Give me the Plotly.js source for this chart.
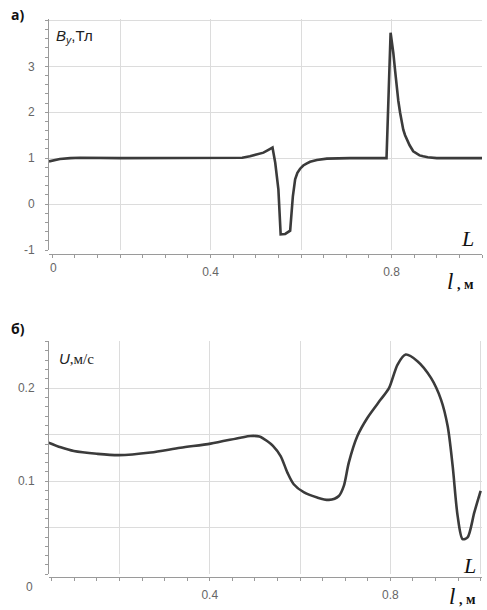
<!DOCTYPE html>
<html>
<head>
<meta charset="utf-8">
<script src="https://cdn.plot.ly/plotly-3.0.1.min.js"></script>
<style>html,body{margin:0;padding:0;background:#fff;}#chart{width:487px;height:610px;}</style>
</head>
<body>
<div id="chart"></div>
<script>
// Panel a) magnetic induction By, T
const lenA = [0.043,0.055,0.067,0.090,0.112,0.200,0.300,0.400,0.450,0.470,0.487,0.505,0.517,0.528,0.537,0.543,0.550,0.555,0.565,0.576,0.582,0.587,0.592,0.598,0.605,0.612,0.620,0.635,0.657,0.708,0.788,0.789,0.798,0.801,0.804,0.808,0.811,0.815,0.819,0.822,0.826,0.830,0.834,0.840,0.848,0.855,0.862,0.870,0.880,0.900,0.950,1.000];
const byA  = [0.93, 0.96, 0.98, 1.00, 1.01, 1.00, 1.00, 1.00, 1.00, 1.01, 1.04, 1.08, 1.12, 1.18, 1.23, 0.90, 0.32, -0.66,-0.65,-0.58,0.17, 0.54, 0.68, 0.77, 0.84, 0.88, 0.92, 0.96, 0.99, 1.00, 1.00, 1.00, 3.73, 3.55, 3.29, 2.90, 2.57, 2.25, 1.99, 1.80, 1.62, 1.50, 1.41, 1.28, 1.15, 1.10, 1.06, 1.04, 1.02, 1.00, 1.00, 1.00];
// Panel б) velocity U, m/s
const lenB = [0.043,0.070,0.099,0.150,0.198,0.269,0.335,0.402,0.468,0.490,0.510,0.527,0.540,0.557,0.572,0.586,0.609,0.638,0.664,0.686,0.697,0.708,0.727,0.749,0.779,0.797,0.816,0.834,0.860,0.890,0.912,0.927,0.938,0.949,0.960,0.971,0.986,1.000];
const uB   = [0.1415,0.1365,0.1325,0.1295,0.1280,0.1308,0.1360,0.1404,0.1468,0.1486,0.1480,0.1432,0.1380,0.1270,0.1093,0.0968,0.0879,0.0825,0.0800,0.0842,0.0950,0.1200,0.1486,0.1680,0.1880,0.2000,0.2254,0.2361,0.2290,0.2110,0.1880,0.1590,0.1164,0.0628,0.0378,0.0396,0.0665,0.0896];

const xTicks = [0.2,0.4,0.6,0.8,1.0];
const xTickText = ["","0.4","","0.8",""];
const yTicksA = [-1,0,1,2,3,4];
const yTickTextA = ["-1","0","1","2","3",""];
const yTicksB = [0,0.05,0.1,0.15,0.2,0.25];
const yTickTextB = ["","","0.1","","0.2",""];

const lineStyle = {color:'#3b3b3b', width:2.6};
const traces = [
  {x:lenA, y:byA, xaxis:'x', yaxis:'y', mode:'lines', line:lineStyle, hoverinfo:'skip'},
  {x:lenB, y:uB, xaxis:'x2', yaxis:'y2', mode:'lines', line:Object.assign({shape:'spline', smoothing:0.8}, lineStyle), hoverinfo:'skip'}
];

const H = 558, W = 433, L0 = 49, T0 = 19;
const px = v => (v - L0) / W;
const py = v => (T0 + H - v) / H;

const tickFont = {family:'Liberation Sans, Arial, sans-serif', size:12, color:'#666'};
const gridC = '#dcdcdc';
const axC = '#9a9a9a';

function xAx(range, pos){
  return {range:range, anchor:'free', position:pos, tickmode:'array', tickvals:xTicks, ticktext:xTickText,
    showgrid:true, gridcolor:gridC, gridwidth:1, zeroline:false, showline:true, linecolor:axC, linewidth:1,
    ticks:'outside', ticklen:3, tickcolor:axC, tickfont:tickFont, ticklabelstandoff:4,
    minor:{tickmode:'linear', tick0:0, dtick:0.05, ticks:'outside', ticklen:3, tickcolor:axC, showgrid:false}};
}
function yAx(range, domain, tv, tt, mdt, anchorX){
  return {range:range, domain:domain, anchor:anchorX, tickmode:'array', tickvals:tv, ticktext:tt,
    showgrid:true, gridcolor:gridC, gridwidth:1, zeroline:false, showline:true, linecolor:axC, linewidth:1,
    ticks:'outside', ticklen:3, tickcolor:axC, tickfont:tickFont, ticklabelstandoff:8,
    minor:{tickmode:'linear', tick0:0, dtick:mdt, ticks:'outside', ticklen:3, tickcolor:axC, showgrid:false}};
}

const domA = [py(250), 1];
const domB = [py(574.3), py(340.7)];

const serif = 'Liberation Serif, Times New Roman, serif';
const sans = 'Liberation Sans, Arial, sans-serif';
const ann = (text, x, y, size, family, color, xanchor) => ({
  text:text, x:px(x), y:py(y), xref:'paper', yref:'paper', showarrow:false,
  xanchor:xanchor||'center', yanchor:'middle', font:{size:size, family:family, color:color||'#222'}
});

const layout = {
  width:487, height:610, paper_bgcolor:'#fff', plot_bgcolor:'#fff', showlegend:false,
  margin:{l:L0, r:487-L0-W, t:T0, b:610-T0-H},
  xaxis: xAx([0.043,1.0], py(254)),
  yaxis: yAx([-1,4.03], domA, yTicksA, yTickTextA, 0.2, 'x'),
  xaxis2: xAx([0.044,1.003], 0),
  yaxis2: yAx([0,0.251], domB, yTicksB, yTickTextB, 0.01, 'x2'),
  annotations:[
    ann('<b>а)</b>', 17, 14, 14, 'Open Sans, sans-serif', '#111'),
    ann('<b>б)</b>', 18, 328, 14, 'Open Sans, sans-serif', '#111'),
    ann('<i>B</i><sub><i>y</i></sub>,Тл', 54, 37, 15, sans, '#222', 'left'),
    ann('<i>U</i><span style="font-family:Liberation Serif">,м/с</span>', 57, 358, 15, sans, '#222', 'left'),
    ann('<i>L</i>', 467, 239, 22, serif, '#111'),
    ann('<i>L</i>', 469, 565, 22, serif, '#111'),
    ann('<i>l</i><span style="font-size:14px"><b> , м</b></span>', 460, 281, 23, serif, '#111'),
    ann('<i>l</i><span style="font-size:14px"><b> , м</b></span>', 462, 596, 23, serif, '#111'),
    ann('0', 53, 268, 12, sans, '#666'),
    ann('0', 29, 587, 12, sans, '#666')
  ]
};

Plotly.newPlot('chart', traces, layout, {staticPlot:true, displayModeBar:false});
</script>
</body>
</html>
